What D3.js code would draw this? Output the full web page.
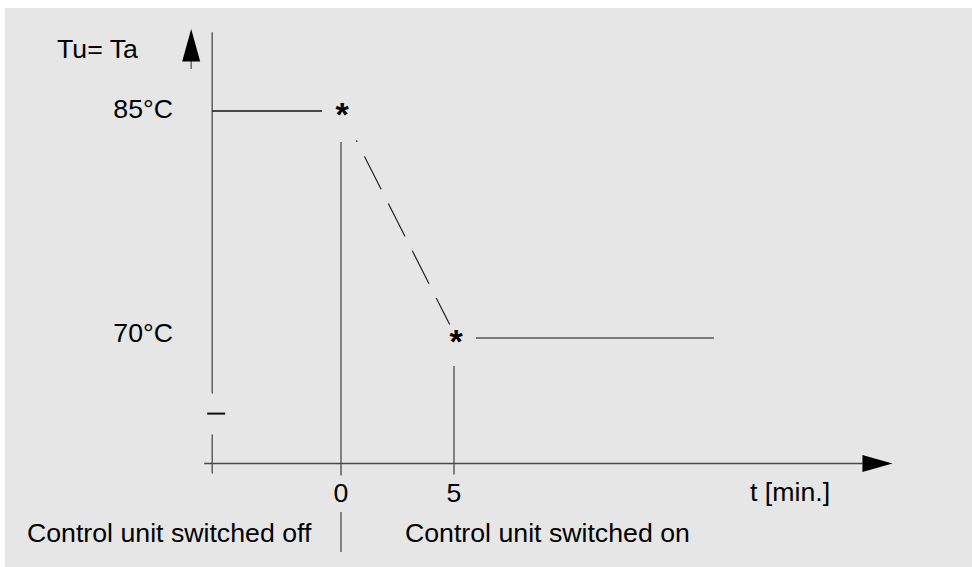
<!DOCTYPE html>
<html>
<head>
<meta charset="utf-8">
<script src="https://cdn.jsdelivr.net/npm/d3@7"></script>
<style>
  body { margin: 0; background: #fff; }
  svg { display: block; font-family: "Liberation Sans", Arial, sans-serif; }
</style>
</head>
<body>
<svg width="972" height="567"></svg>
<script>
// data
const times = [0, 5];              // minutes where the control unit state changes
const temps = [85, 70];            // Tu = Ta at those points
const tempLabels = ["85°C", "70°C"];
const timeTicks = ["0", "5"];
const tempAxisLabel = "Tu= Ta";
const timeAxisLabel = "t [min.]";
const phaseLabels = ["Control unit switched off", "Control unit switched on"];
const timeAxisRange = [-5.7, 24.4];   // where the axes sit / end, in minutes
const tempAxisRange = [61.7, 90.2];   // in degC
const holdEnd = 16.5;                 // end of the 70°C plateau line

const svg = d3.select("svg");
const fs = 26.7;

svg.append("rect").attr("x", 5).attr("y", 8).attr("width", 967).attr("height", 559)
  .attr("fill", "#e6e6e6");

let x = d3.scaleLinear().domain(times).range([341, 454]);
let y = d3.scaleLinear().domain(temps).range([111, 338]);

const g = svg.append("g");
const axisColor = "#4a4a4a";

// vertical axis, with a break near the bottom
let x0 = x(timeAxisRange[0]);
let yAxisY = y(tempAxisRange[0]);
g.append("line").attr("x1", x0).attr("x2", x0)
  .attr("y1", y(tempAxisRange[1])).attr("y2", yAxisY - 70)
  .attr("stroke", axisColor).attr("stroke-width", 1.3);
g.append("line").attr("x1", x0 - 5).attr("x2", x0 + 13)
  .attr("y1", yAxisY - 50).attr("y2", yAxisY - 50)
  .attr("stroke", "#111").attr("stroke-width", 2);
g.append("line").attr("x1", x0).attr("x2", x0)
  .attr("y1", yAxisY - 29).attr("y2", yAxisY + 10)
  .attr("stroke", axisColor).attr("stroke-width", 1.3);

// horizontal axis with arrow
let xEnd = x(timeAxisRange[1]);
g.append("line").attr("x1", x0 - 8).attr("x2", xEnd - 30)
  .attr("y1", yAxisY).attr("y2", yAxisY)
  .attr("stroke", axisColor).attr("stroke-width", 1.5);
g.append("path")
  .attr("d", d3.line()([[xEnd - 30, yAxisY - 8.5], [xEnd, yAxisY], [xEnd - 30, yAxisY + 8.5]]))
  .attr("fill", "#000");

// up arrow beside the y axis
let ax = x0 - 21;
g.append("line").attr("x1", ax).attr("x2", ax).attr("y1", 58).attr("y2", 69)
  .attr("stroke", "#555").attr("stroke-width", 1.3);
g.append("path")
  .attr("d", d3.line()([[ax - 9, 61.5], [ax, 29], [ax + 9, 61.5]]))
  .attr("fill", "#000");

// 85 level before switch-off
g.append("line").attr("x1", x0).attr("x2", x(times[0]) - 19)
  .attr("y1", y(temps[0])).attr("y2", y(temps[0]))
  .attr("stroke", "#111").attr("stroke-width", 1.3);

// 70 level after
g.append("line").attr("x1", x(times[1]) + 22).attr("x2", x(holdEnd))
  .attr("y1", y(temps[1])).attr("y2", y(temps[1]))
  .attr("stroke", "#555").attr("stroke-width", 1.3);

// vertical markers at t=0 and t=5
g.append("line").attr("x1", x(times[0])).attr("x2", x(times[0]))
  .attr("y1", y(temps[0]) + 31).attr("y2", yAxisY + 12)
  .attr("stroke", axisColor).attr("stroke-width", 1.3);
g.append("line").attr("x1", x(times[1])).attr("x2", x(times[1]))
  .attr("y1", y(temps[1]) + 28).attr("y2", yAxisY + 11)
  .attr("stroke", axisColor).attr("stroke-width", 1.3);

// dashed cooling line between the two points
let p0 = [x(times[0]) + 1, y(temps[0]) + 1];
let p1 = [x(times[1]) + 2, y(temps[1]) - 1];
let dx = p1[0] - p0[0], dy = p1[1] - p0[1];
let len = Math.sqrt(dx * dx + dy * dy);
let a = 32 / len, b = 14 / len;
g.append("line")
  .attr("x1", p0[0] + dx * a).attr("y1", p0[1] + dy * a)
  .attr("x2", p1[0] - dx * b).attr("y2", p1[1] - dy * b)
  .attr("stroke", "#222").attr("stroke-width", 1.2)
  .attr("stroke-dasharray", "37,16").attr("stroke-dashoffset", 35.5);

// asterisk markers
g.selectAll("text.star")
  .data(times)
  .enter()
  .append("text")
  .attr("class", "star")
  .attr("x", (d, i) => x(d) + 1 + i)
  .attr("y", (d, i) => y(temps[i]) + 15)
  .attr("text-anchor", "middle")
  .attr("font-size", 34)
  .attr("font-weight", "bold")
  .attr("fill", "#000")
  .text("*");

// labels
g.selectAll("text.temp")
  .data(tempLabels)
  .enter()
  .append("text")
  .attr("class", "temp")
  .attr("x", 173)
  .attr("y", (d, i) => y(temps[i]) + (i == 0 ? 7 : 4))
  .attr("text-anchor", "end")
  .attr("font-size", fs)
  .attr("fill", "#000")
  .text(d => d);

g.selectAll("text.tick")
  .data(timeTicks)
  .enter()
  .append("text")
  .attr("class", "tick")
  .attr("x", (d, i) => x(times[i]))
  .attr("y", 502)
  .attr("text-anchor", "middle")
  .attr("font-size", fs)
  .attr("fill", "#000")
  .text(d => d);

g.append("text").attr("x", 57).attr("y", 58).attr("font-size", fs).attr("fill", "#000")
  .text(tempAxisLabel);
g.append("text").attr("x", 750).attr("y", 501).attr("font-size", fs).attr("fill", "#000")
  .text(timeAxisLabel);

g.append("text").attr("x", 27).attr("y", 542).attr("font-size", fs).attr("fill", "#000")
  .text(phaseLabels[0]);
g.append("text").attr("x", 405).attr("y", 542).attr("font-size", fs).attr("fill", "#000")
  .text(phaseLabels[1]);
g.append("line").attr("x1", x(times[0])).attr("x2", x(times[0]))
  .attr("y1", 512).attr("y2", 552)
  .attr("stroke", axisColor).attr("stroke-width", 1.3);
</script>
</body>
</html>
